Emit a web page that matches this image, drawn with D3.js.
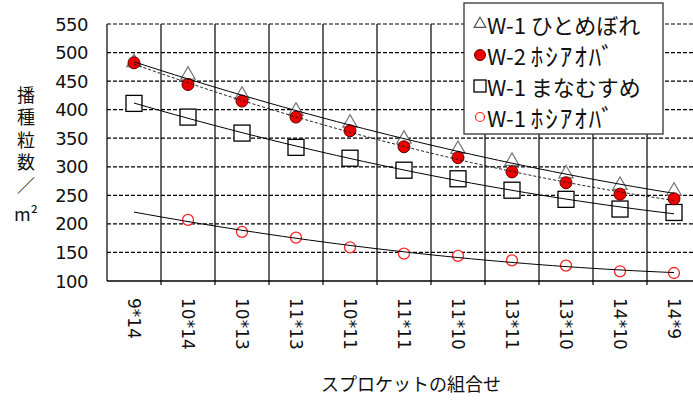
<!DOCTYPE html>
<html>
<head>
<meta charset="utf-8">
<script src="https://cdn.jsdelivr.net/npm/d3@7"></script>
<style>
  body { margin: 0; background: #fff; }
  svg { display: block; }
</style>
</head>
<body>
<svg id="chart"></svg>
<script>
const categories = ["9*14", "10*14", "10*13", "11*13", "10*11", "11*11", "11*10", "13*11", "13*10", "14*10", "14*9"];
const hitomeW1 = [481, 459, 424, 396, 375, 347, 329, 308, 286, 266, 256];
const hoshiW2 = [482, 444, 415, 387, 363, 335, 316, 291, 272, 252, 244];
const manaW1 = [411, 387, 359, 334, 315, 294, 279, 259, 243, 226, 220];
const hoshiW1 = [null, 207, 186, 176, 159, 148, 144, 136, 127, 117, 114];
const yTicks = [100, 150, 200, 250, 300, 350, 400, 450, 500, 550];
const seriesCodes = ["W-1", "W-2", "W-1", "W-1"];
const seriesKinds = ["ひとめぼれ", "ﾎｼｱｵﾊﾞ", "まなむすめ", "ﾎｼｱｵﾊﾞ"];
const yTitle = "播種粒数／";
const yUnit = "m²";
const xTitle = "スプロケットの組合せ";

const W = 693, H = 401;
const plotLeft = 107, plotRight = 701, plotTop = 24, plotBottom = 281;

const svg = d3.select("#chart").attr("width", W).attr("height", H);

const x = d3.scaleBand().domain(categories).range([plotLeft, plotRight]);
const y = d3.scaleLinear().domain([100, 550]).range([plotBottom, plotTop]);
const cx = d => x(d) + x.bandwidth() / 2;

// grid
svg.append("g").selectAll("line.h")
  .data(yTicks.filter(v => v > 100)).enter().append("line")
  .attr("x1", plotLeft).attr("x2", plotRight)
  .attr("y1", d => y(d)).attr("y2", d => y(d))
  .attr("stroke", "#000").attr("stroke-width", 1.2)
  .attr("stroke-dasharray", "4,2");

svg.append("g").selectAll("line.v")
  .data(categories).enter().append("line")
  .attr("x1", d => x(d) + x.bandwidth()).attr("x2", d => x(d) + x.bandwidth())
  .attr("y1", plotTop).attr("y2", plotBottom + 4)
  .attr("stroke", "#000").attr("stroke-width", 1.2);

svg.append("line").attr("x1", plotLeft).attr("x2", plotLeft).attr("y1", plotTop).attr("y2", plotBottom)
  .attr("stroke", "#000").attr("stroke-width", 1.2);
svg.append("line").attr("x1", plotLeft).attr("x2", plotRight).attr("y1", plotBottom).attr("y2", plotBottom)
  .attr("stroke", "#000").attr("stroke-width", 1.5);

// y tick labels
svg.append("g").selectAll("text")
  .data(yTicks).enter().append("text")
  .attr("x", 88).attr("y", d => y(d))
  .attr("text-anchor", "end").attr("dominant-baseline", "central")
  .attr("font-family", "DejaVu Sans").attr("font-size", 18).attr("fill", "#111")
  .attr("letter-spacing", -0.5)
  .text(d => d);

// x tick labels (rotated)
svg.append("g").selectAll("text")
  .data(categories).enter().append("text")
  .attr("transform", d => `translate(${cx(d)},298) rotate(90)`)
  .attr("dominant-baseline", "central")
  .attr("font-family", "DejaVu Sans").attr("font-size", 17).attr("fill", "#111")
  .text(d => d);

// axis titles
svg.append("text")
  .attr("x", 26).attr("y", 86)
  .attr("writing-mode", "vertical-rl")
  .attr("font-family", "Noto Sans CJK JP").attr("font-size", 18).attr("fill", "#111")
  .attr("letter-spacing", 4.5)
  .text(yTitle);
svg.append("text")
  .attr("x", 26).attr("y", 213)
  .attr("text-anchor", "middle").attr("dominant-baseline", "central")
  .attr("font-family", "Noto Sans CJK JP").attr("font-size", 18).attr("fill", "#111")
  .text(yUnit);

svg.append("text").attr("x", 411).attr("y", 383)
  .attr("text-anchor", "middle").attr("dominant-baseline", "central")
  .attr("font-family", "Noto Sans CJK JP").attr("font-size", 18).attr("fill", "#111")
  .text(xTitle);

// 2nd order polynomial trend line (least squares), over the whole category range
function polyTrend(vals) {
  const pts = vals.map((v, i) => [i + 1, v]).filter(p => p[1] != null);
  const S = k => d3.sum(pts, p => p[0] ** k);
  const T = k => d3.sum(pts, p => p[1] * p[0] ** k);
  const A = [[S(0), S(1), S(2)], [S(1), S(2), S(3)], [S(2), S(3), S(4)]];
  const B = [T(0), T(1), T(2)];
  const det = m => m[0][0] * (m[1][1] * m[2][2] - m[1][2] * m[2][1])
    - m[0][1] * (m[1][0] * m[2][2] - m[1][2] * m[2][0])
    + m[0][2] * (m[1][0] * m[2][1] - m[1][1] * m[2][0]);
  const D = det(A);
  const coef = [0, 1, 2].map(j => det(A.map((row, i) => row.map((v, k) => k === j ? B[i] : v))) / D);
  return d3.range(1, 11.01, 0.25).map(t => [t, coef[0] + coef[1] * t + coef[2] * t * t]);
}
const xi = d3.scaleLinear().domain([1, categories.length]).range([cx(categories[0]), cx(categories[categories.length - 1])]);
const trendLine = d3.line().x(d => xi(d[0])).y(d => y(d[1])).curve(d3.curveMonotoneX);

// markers
const valid = arr => categories.map((c, i) => ({ c, v: arr[i] })).filter(d => d.v != null);

svg.append("g").selectAll("rect")
  .data(valid(manaW1)).enter().append("rect")
  .attr("x", d => cx(d.c) - 8).attr("y", d => y(d.v) - 8)
  .attr("width", 16).attr("height", 16)
  .attr("fill", "#fff").attr("stroke", "#000").attr("stroke-width", 1.3);

svg.append("g").selectAll("circle")
  .data(valid(hoshiW1)).enter().append("circle")
  .attr("cx", d => cx(d.c)).attr("cy", d => y(d.v)).attr("r", 5.5)
  .attr("fill", "#fff").attr("stroke", "#f22").attr("stroke-width", 1.3);

const tri = d3.symbol().type(d3.symbolTriangle).size(90);
svg.append("g").selectAll("path")
  .data(valid(hitomeW1)).enter().append("path")
  .attr("transform", d => `translate(${cx(d.c)},${y(d.v) - 1})`)
  .attr("d", tri)
  .attr("fill", "#fff").attr("stroke", "#777").attr("stroke-width", 1.2);

svg.append("g").selectAll("circle")
  .data(valid(hoshiW2)).enter().append("circle")
  .attr("cx", d => cx(d.c)).attr("cy", d => y(d.v)).attr("r", 6)
  .attr("fill", "#e00").attr("stroke", "#600").attr("stroke-width", 1);

// trend lines on top of markers
svg.append("path").attr("d", trendLine(polyTrend(hitomeW1)))
  .attr("fill", "none").attr("stroke", "#000").attr("stroke-width", 1);
svg.append("path").attr("d", trendLine(polyTrend(hoshiW2)))
  .attr("fill", "none").attr("stroke", "#222").attr("stroke-width", 1).attr("stroke-dasharray", "3,2");
svg.append("path").attr("d", trendLine(polyTrend(manaW1)))
  .attr("fill", "none").attr("stroke", "#000").attr("stroke-width", 1);
svg.append("path").attr("d", trendLine(polyTrend(hoshiW1)))
  .attr("fill", "none").attr("stroke", "#000").attr("stroke-width", 1);

// legend
const lg = svg.append("g");
lg.append("rect").attr("x", 464).attr("y", 3).attr("width", 199).attr("height", 131)
  .attr("fill", "#fff").attr("stroke", "#333").attr("stroke-width", 1.3);
const rowY = [24, 55, 86, 117];
const mx0 = 480;
lg.append("path").attr("transform", `translate(${mx0},${rowY[0]})`)
  .attr("d", d3.symbol().type(d3.symbolTriangle).size(60))
  .attr("fill", "#fff").attr("stroke", "#555").attr("stroke-width", 1.2);
lg.append("circle").attr("cx", mx0).attr("cy", rowY[1]).attr("r", 5.5)
  .attr("fill", "#e00").attr("stroke", "#600");
lg.append("rect").attr("x", mx0 - 6).attr("y", rowY[2] - 6).attr("width", 12).attr("height", 12)
  .attr("fill", "#fff").attr("stroke", "#000").attr("stroke-width", 1.3);
lg.append("circle").attr("cx", mx0).attr("cy", rowY[3]).attr("r", 4.5)
  .attr("fill", "#fff").attr("stroke", "#f22").attr("stroke-width", 1.2);
const lt = lg.selectAll("text").data(seriesCodes).enter().append("text")
  .attr("x", 487).attr("y", (d, i) => rowY[i])
  .attr("dominant-baseline", "central")
  .attr("font-family", "Noto Sans CJK JP").attr("font-size", 22).attr("fill", "#111");
lt.append("tspan").text(d => d + " ");
lt.append("tspan")
  .attr("font-size", (d, i) => seriesKinds[i].includes("ﾎ") ? 25 : 22)
  .attr("letter-spacing", (d, i) => seriesKinds[i].includes("ﾎ") ? 2 : 0)
  .text((d, i) => seriesKinds[i]);
</script>
</body>
</html>
